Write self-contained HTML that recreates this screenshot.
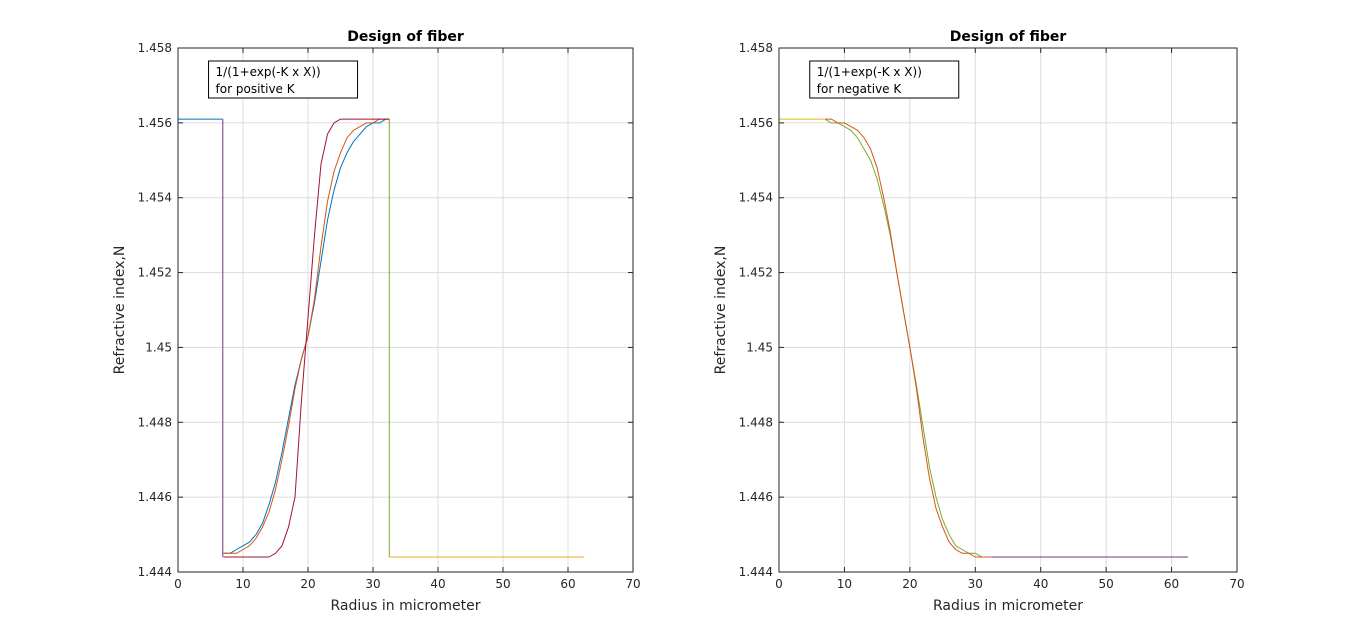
<!DOCTYPE html>
<html><head><meta charset="utf-8"><style>
body{margin:0;background:#fff;}
svg{display:block;font-family:"DejaVu Sans","Liberation Sans",sans-serif;}
</style></head><body>
<svg id="fig" width="1366" height="643" viewBox="0 0 1366 643"></svg>
<script>
const xTicks=[0,10,20,30,40,50,60,70];
const yTicks=[1.444,1.446,1.448,1.45,1.452,1.454,1.456,1.458];
const yTickLabels=["1.444","1.446","1.448","1.45","1.452","1.454","1.456","1.458"];
const sigX=[7,8,9,10,11,12,13,14,15,16,17,18,19,20,21,22,23,24,25,26,27,28,29,30,31,32,32.5];
const posRed=[1.4444,1.4444,1.4444,1.4444,1.4444,1.4444,1.4444,1.4444,1.4445,1.4447,1.4452,1.4460,1.4486,1.4508,1.4530,1.4549,1.4557,1.4560,1.4561,1.4561,1.4561,1.4561,1.4561,1.4561,1.4561,1.4561,1.4561];
const posOrange=[1.4445,1.4445,1.4445,1.4446,1.4447,1.4449,1.4452,1.4456,1.4462,1.4470,1.4479,1.4489,1.4497,1.4503,1.4513,1.4527,1.4539,1.4547,1.4552,1.4556,1.4558,1.4559,1.4560,1.4560,1.4561,1.4561,1.4561];
const posBlue=[1.4445,1.4445,1.4446,1.4447,1.4448,1.4450,1.4453,1.4458,1.4464,1.4472,1.4481,1.4490,1.4497,1.4503,1.4512,1.4523,1.4534,1.4542,1.4548,1.4552,1.4555,1.4557,1.4559,1.4560,1.4560,1.4561,1.4561];
const negRed=[1.4561,1.4561,1.4560,1.4560,1.4559,1.4558,1.4556,1.4553,1.4548,1.4540,1.4531,1.4520,1.4510,1.4500,1.4489,1.4476,1.4465,1.4457,1.4452,1.4448,1.4446,1.4445,1.4445,1.4444,1.4444,1.4444,1.4444];
const negGreen=[1.4561,1.4560,1.4560,1.4559,1.4558,1.4556,1.4553,1.4550,1.4545,1.4538,1.4530,1.4520,1.4510,1.4500,1.4490,1.4479,1.4468,1.4460,1.4454,1.4450,1.4447,1.4446,1.4445,1.4445,1.4444,1.4444,1.4444];
const coreLevel=1.4561, cladLevel=1.4444, coreEnd=6.9, cladStart=32.5, cladEnd=62.5;

const NS="http://www.w3.org/2000/svg";
const svg=document.getElementById('fig');
function mk(tag,attrs,parent){const e=document.createElementNS(NS,tag);for(const k in attrs)e.setAttribute(k,attrs[k]);(parent||svg).appendChild(e);return e;}

function panel(x0,x1,title,legendLines,series,pid){
  const y0=48,y1=572;
  const sx=v=>x0+(v-0)/(70-0)*(x1-x0);
  const sy=v=>y1-(v-1.444)/(1.458-1.444)*(y1-y0);
  const g=mk('g',{});
  
  
  xTicks.forEach(t=>{
    const l=mk('line',{x1:sx(t),x2:sx(t),y1:y0,y2:y1,stroke:'#dcdcdc','stroke-width':1},g);
    
  });
  yTicks.forEach(t=>{
    const l=mk('line',{x1:x0,x2:x1,y1:sy(t),y2:sy(t),stroke:'#dcdcdc','stroke-width':1},g);
    
  });
  series.forEach(s=>{
    const d=s.xs.map((x,i)=>(i?'L':'M')+sx(x).toFixed(1)+','+sy(s.ys[i]).toFixed(1)).join(' ');
    const p=mk('path',{d:d,fill:'none',stroke:s.c,'stroke-width':1,'stroke-linejoin':'round'},g);
    
  });
  const box=mk('rect',{x:x0,y:y0,width:x1-x0,height:y1-y0,fill:'none',stroke:'#262626','stroke-width':1},g);
  
  xTicks.forEach(t=>{
    mk('line',{x1:sx(t),x2:sx(t),y1:y1,y2:y1-5,stroke:'#262626'},g);
    mk('line',{x1:sx(t),x2:sx(t),y1:y0,y2:y0+5,stroke:'#262626'},g);
    const tx=mk('text',{x:sx(t),y:y1+16,'font-size':12,'text-anchor':'middle',fill:'#262626'},g);
    tx.textContent=t;
  });
  yTicks.forEach((t,i)=>{
    mk('line',{x1:x0,x2:x0+5,y1:sy(t),y2:sy(t),stroke:'#262626'},g);
    mk('line',{x1:x1,x2:x1-5,y1:sy(t),y2:sy(t),stroke:'#262626'},g);
    const tx=mk('text',{x:x0-6,y:sy(t)+4,'font-size':12,'text-anchor':'end',fill:'#262626'},g);
    tx.textContent=yTickLabels[i];
  });
  const tt=mk('text',{x:(x0+x1)/2,y:41,'font-size':14,'font-weight':'bold','text-anchor':'middle',fill:'#000'},g);
  tt.textContent=title;
  const xl=mk('text',{x:(x0+x1)/2,y:610,'font-size':14,'text-anchor':'middle',fill:'#262626'},g);
  xl.textContent='Radius in micrometer';
  const yl=mk('text',{x:0,y:0,'font-size':14,'text-anchor':'middle',fill:'#262626',transform:`translate(${x0-54},${(y0+y1)/2}) rotate(-90)`},g);
  yl.textContent='Refractive index,N';
  const lg=mk('g',{},g);
  
  mk('rect',{x:sx(4.7),y:61,width:149,height:37,fill:'#fff',stroke:'#000'},lg);
  legendLines.forEach((s,i)=>{
    const t=mk('text',{x:sx(4.7)+7,y:76+i*17,'font-size':12,fill:'#000'},lg);
    t.textContent=s;
  });
}
const core=[0,coreEnd], clad=[cladStart,cladEnd];
panel(178,633,'Design of fiber',['1/(1+exp(-K x X))','for positive K'],[
  {xs:core,ys:[coreLevel,coreLevel],c:'#0072bd',n:'core-line'},
  {xs:[coreEnd,coreEnd],ys:[coreLevel,cladLevel],c:'#7e2f8e',n:'core-drop'},
  {xs:[cladStart,cladStart],ys:[coreLevel,cladLevel],c:'#77ac30',n:'clad-step'},
  {xs:clad,ys:[cladLevel,cladLevel],c:'#edb120',n:'cladding-line'},
  {xs:sigX,ys:posBlue,c:'#0072bd',n:'profile-blue'},
  {xs:sigX,ys:posOrange,c:'#d95319',n:'profile-orange'},
  {xs:sigX,ys:posRed,c:'#a2142f',n:'profile-red'},
],'left');
panel(779,1237,'Design of fiber',['1/(1+exp(-K x X))','for negative K'],[
  {xs:core,ys:[coreLevel,coreLevel],c:'#edb120',n:'core-line'},
  {xs:clad,ys:[cladLevel,cladLevel],c:'#7e2f8e',n:'cladding-line'},
  {xs:sigX,ys:negGreen,c:'#77ac30',n:'profile-green'},
  {xs:sigX,ys:negRed,c:'#d95319',n:'profile-red'},
],'right');
</script>
</body></html>
